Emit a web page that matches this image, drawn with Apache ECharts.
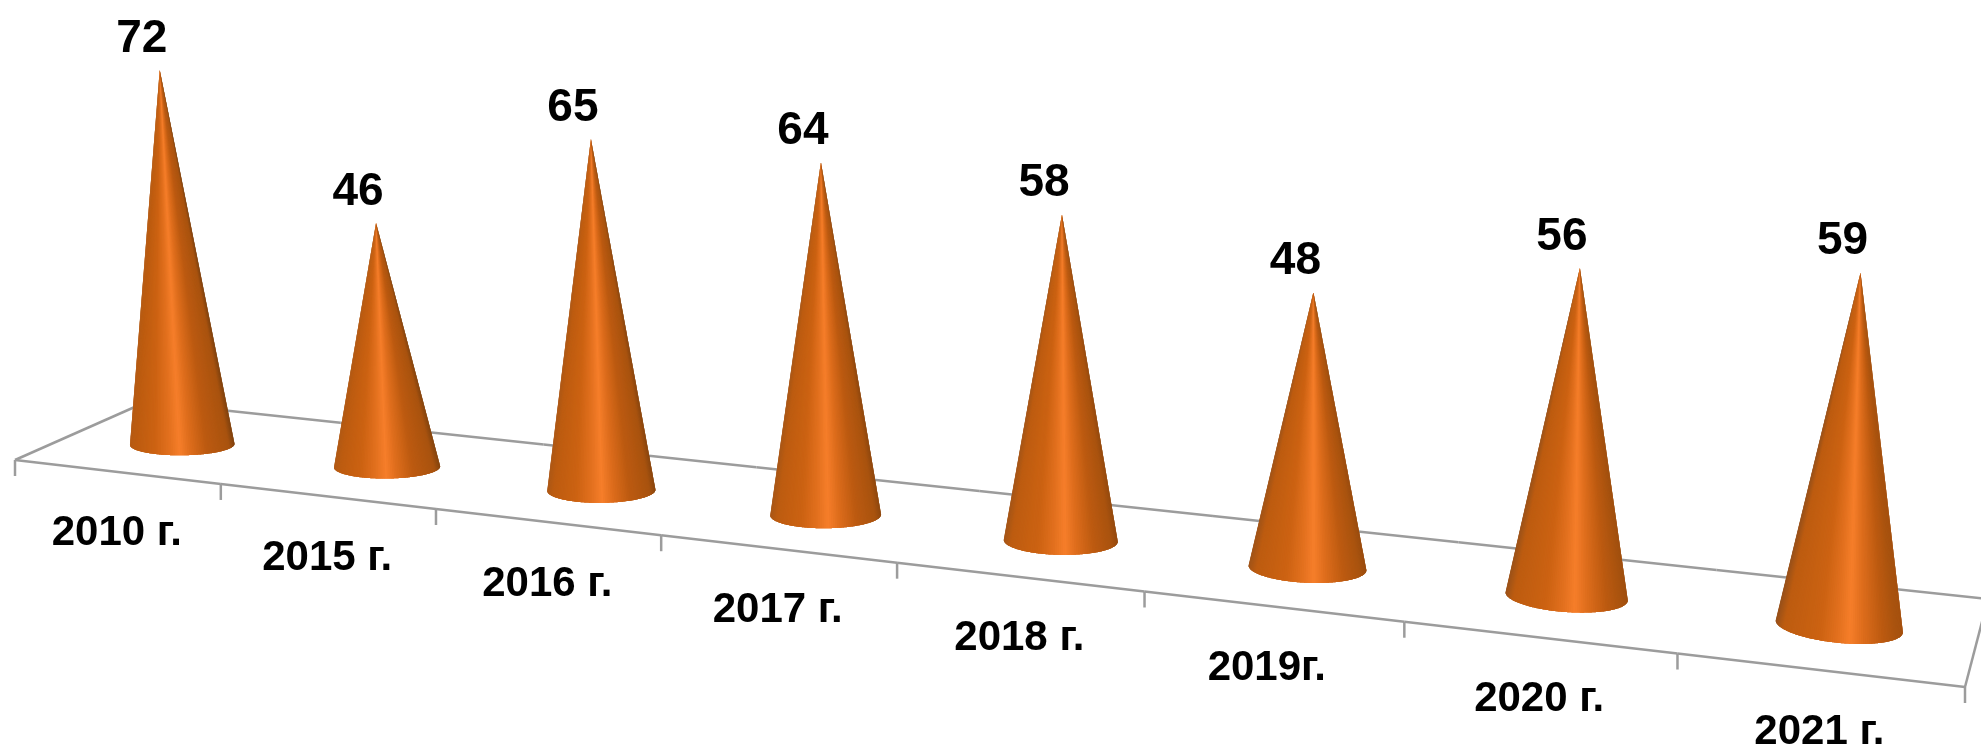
<!DOCTYPE html>
<html><head><meta charset="utf-8">
<style>html,body{margin:0;padding:0;background:#fff}#c{width:1981px;height:750px}</style>
<script src="https://cdn.jsdelivr.net/npm/echarts@6/dist/echarts.min.js"></script>
</head><body><div id="c"></div>
<script>
const categories = ['2010 г.','2015 г.','2016 г.','2017 г.','2018 г.','2019г.','2020 г.','2021 г.'];
const values = [72,46,65,64,58,48,56,59];

const G = {left:15, top:50, width:1950, height:500};
const F0=[15,460], F1=[1965,687], B0=[146,402], B1=[1988,599];
const lerp=(a,b,t)=>a+(b-a)*t;
const pers=u=>u*(1-0.174)/(1-0.174*u);
function floorPt(u,d){
  const p=pers(u);
  const fx=lerp(F0[0],F1[0],p), fy=lerp(F0[1],F1[1],p);
  const bx=lerp(B0[0],B1[0],p), by=lerp(B0[1],B1[1],p);
  return [lerp(fx,bx,d),lerp(fy,by,d)];
}
function coneBase(u){
  const c=floorPt(u,0.52);
  return [c[0]+4*u, c[1]+3.7-3*u];
}
function hex(c){return [parseInt(c.slice(1,3),16),parseInt(c.slice(3,5),16),parseInt(c.slice(5,7),16)];}
function mixRgb(A,B,t){return A.map((v,i)=>lerp(v,B[i],t));}
function shade(s,u){
  const hl=0.47+0.12*u;
  const stops=[
    [0,mixRgb(hex('#b85c14'),hex('#96501a'),u)],
    [0.06,hex('#bd5c10')],
    [hl-0.24,hex('#cc6212')],
    [hl-0.10,hex('#e2701e')],
    [hl,hex('#f67e2a')],
    [hl+0.10,hex('#de6d1c')],
    [hl+0.26,hex('#bc5a10')],
    [0.95,hex('#a9530f')],
    [1,mixRgb(hex('#7f420f'),hex('#a8520f'),u)]];
  for(let i=1;i<stops.length;i++){
    if(s<=stops[i][0]){
      const t=(s-stops[i-1][0])/(stops[i][0]-stops[i-1][0]);
      return 'rgb('+mixRgb(stops[i-1][1],stops[i][1],t).map(Math.round).join(',')+')';
    }
  }
  return 'rgb('+stops[stops.length-1][1].map(Math.round).join(',')+')';
}
function geom(api){
  const i=api.value(0), v=api.value(1);
  const top=api.coord([i,v]), zero=api.coord([i,0]);
  const u=(top[0]-G.left)/G.width;
  const c=coneBase(u);
  const h=(zero[1]-top[1])*1.03/(1-0.15*u);
  const lean=h*(c[0]-1010)*7.25e-5;
  return {i,v,u,c,h,apex:[c[0]+lean,c[1]-h]};
}
function renderCone(params,api){
  const {u,c,apex}=geom(api);
  const rx=51.9/(1-0.2*u)-1.5*Math.sin(Math.PI*u), ry=10.5+6.5*u;
  const tilt=Math.max(-0.01,(c[0]-900)/940*0.094);
  const N=90, children=[];
  const edge=a=>{const x=rx*Math.cos(a), y=ry*Math.sin(a);return [c[0]-x,c[1]+y-tilt*x];};
  for(let k=0;k<N;k++){
    const a0=Math.PI*k/N, a1=Math.PI*Math.min(k+3,N)/N, am=Math.PI*(k+0.5)/N;
    const s=(1-Math.cos(am))/2;
    const pts=[apex,edge(a0)];
    for(let j=1;j<=6;j++) pts.push(edge(lerp(a0,a1,j/6)));
    children.push({type:'polygon',shape:{points:pts},style:{fill:shade(s,u)}});
  }
  return {type:'group',children};
}
function renderLabels(params,api){
  const {i,v,u,apex}=geom(api);
  const f=floorPt(u,0);
  const nudge=categories[i].includes(' ')?0:-6;
  return {type:'group',children:[
    {type:'text',style:{text:String(v),x:apex[0]-18,y:apex[1]-31,align:'center',verticalAlign:'middle',
      font:'bold 46px "Liberation Sans"',fill:'#000'}},
    {type:'text',style:{text:categories[i],x:f[0]+nudge,y:f[1]+62,align:'center',verticalAlign:'middle',
      font:'bold 42px "Liberation Sans"',fill:'#000'}}
  ]};
}
function renderFloor(params,api){
  const i=api.value(0);
  const x=api.coord([i,0])[0], band=api.size([1,0])[0];
  const u0=(x-band/2-G.left)/G.width, u1=(x+band/2-G.left)/G.width;
  const line={stroke:'#9c9c9c',lineWidth:2.5,fill:null};
  const a=floorPt(u0,0), b=floorPt(u1,0);
  const kids=[
    {type:'line',shape:{x1:a[0],y1:a[1],x2:b[0],y2:b[1]},style:line},
    {type:'line',shape:{x1:a[0],y1:a[1],x2:a[0],y2:a[1]+16},style:line}
  ];
  const p=floorPt(u0,1), q=floorPt(u1,1);
  kids.push({type:'line',shape:{x1:p[0],y1:p[1],x2:q[0],y2:q[1]},style:line});
  if(i===0) kids.push({type:'line',shape:{x1:a[0],y1:a[1],x2:p[0],y2:p[1]},style:line});
  if(i===categories.length-1){
    kids.push({type:'line',shape:{x1:b[0],y1:b[1],x2:b[0],y2:b[1]+16},style:line});
    kids.push({type:'line',shape:{x1:b[0],y1:b[1],x2:q[0],y2:q[1]},style:line});
  }
  return {type:'group',children:kids};
}
const rows=values.map((v,i)=>[i,v]);
const chart=echarts.init(document.getElementById('c'),null,{renderer:'canvas'});
chart.setOption({
  animation:false,
  backgroundColor:'#fff',
  grid:{left:G.left,top:G.top,width:G.width,height:G.height},
  xAxis:{type:'category',data:categories,show:false},
  yAxis:{type:'value',min:0,max:100,show:false},
  series:[
    {type:'custom',renderItem:renderFloor,data:rows,clip:false,silent:true,z:1},
    {type:'custom',renderItem:renderCone,data:rows,clip:false,silent:true,z:2},
    {type:'custom',renderItem:renderLabels,data:rows,clip:false,silent:true,z:3}
  ]
});
</script></body></html>
